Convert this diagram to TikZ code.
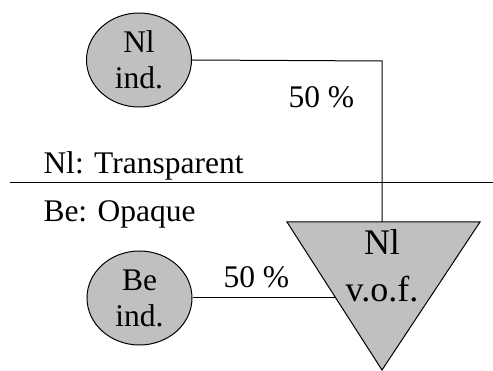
\documentclass[tikz,border=0pt]{standalone}
\usepackage{fontspec}
\setmainfont{Liberation Serif}
\usetikzlibrary{shapes.geometric}
\definecolor{shade}{HTML}{C0C0C0}
\begin{document}
\begin{tikzpicture}[x=1pt,y=-1pt,
  line width=1pt,
  party/.style={ellipse,draw=black,fill=shade,minimum width=105pt,minimum height=94pt,inner sep=0pt,align=center,font=\fontsize{31.5}{36}\selectfont},
  lbl/.style={anchor=base west,inner sep=0pt,font=\fontsize{31.5}{36}\selectfont},
  wire/.style={draw=black,line width=1pt}]
\useasboundingbox (0,0) rectangle (493,371);
% triangle
\coordinate (tl) at (287,222);
\coordinate (tr) at (480,222);
\coordinate (tb) at (382,370);
\coordinate (ttop) at (382,222);
\coordinate (tedge) at (336,298);
\coordinate (bend) at (382,61);
\draw[fill=shade] (tl) -- (tr) -- (tb) -- cycle;
\node[inner sep=0pt,align=center,font=\fontsize{36}{47}\selectfont] (vof) at (382,266) {Nl\\v.o.f.};
% parties
\node[party] (nlind) at (139,60) {Nl\\ind.};
\node[party] (beind) at (139.5,298) {Be\\ind.};
% divider
\coordinate (dl) at (10,183);
\coordinate (dr) at (493,183);
\draw[wire] (dl) -- (dr);
% connectors
\draw[wire] (nlind.east) -- (bend) -- (ttop);
\draw[wire] (beind.east) -- (tedge);
% labels
\node[lbl] (p1) at (288,108) {50 \%};
\node[lbl] (p2) at (223,288) {50 \%};
\node[lbl] (tx1) at (43,174) {Nl: Transparent};
\node[lbl] (tx2) at (43,222) {Be: Opaque};
\end{tikzpicture}
\end{document}
